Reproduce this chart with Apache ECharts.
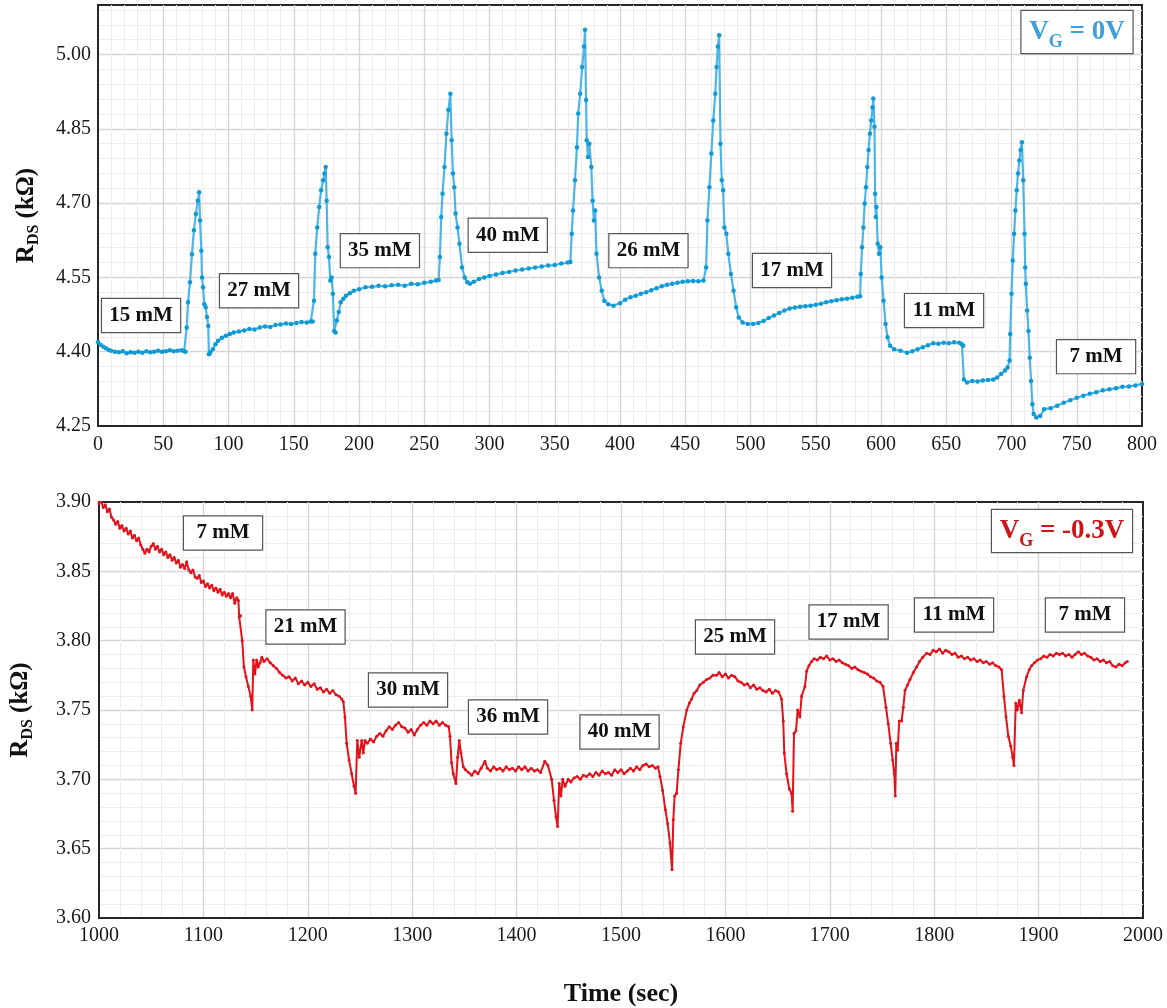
<!DOCTYPE html>
<html><head><meta charset="utf-8">
<script src="https://cdn.jsdelivr.net/npm/echarts/dist/echarts.min.js"></script>
<style>html,body{margin:0;padding:0;background:#fff}#c{width:1167px;height:1008px}</style>
</head><body><div id="c"></div>
<script>
// ---------- DATA ----------
// Top panel: V_G = 0 V, [time (s), R_DS (kΩ)]
const topSeries = [
[0,4.419],[2,4.414],[4,4.410],[6,4.407],[8,4.404],[10,4.402],[13,4.400],[16,4.399],[19,4.401],[22,4.397],[25,4.399],[28,4.398],[31,4.400],[34,4.398],[37,4.401],[40,4.399],[43,4.400],[46,4.402],[49,4.400],[52,4.401],[55,4.403],[58,4.401],[61,4.402],[64,4.403],[66,4.401],[67,4.400],
[68,4.449],[69,4.500],[70.5,4.540],[72,4.597],[73.5,4.645],[75,4.678],[76.5,4.705],[77.5,4.722],
[78.2,4.665],[79.2,4.604],[79.7,4.550],[80.5,4.530],[81.5,4.496],[82.5,4.490],[83.5,4.470],[84.5,4.452],[85,4.395],
[86,4.398],[88,4.405],[90,4.415],[92,4.422],[95,4.428],[98,4.432],[101,4.436],[104,4.439],[108,4.441],[112,4.443],[116,4.446],[120,4.445],[124,4.449],[128,4.451],[132,4.450],[136,4.454],[140,4.455],[144,4.457],[148,4.456],[152,4.458],[156,4.460],[160,4.459],[163,4.461],[164.5,4.461],
[165.5,4.503],[166.5,4.598],[168,4.651],[169.5,4.692],[171,4.726],[172.5,4.746],[173.5,4.760],[174.5,4.773],
[175.2,4.705],[176,4.611],[177,4.591],[178,4.544],[179,4.550],[180,4.517],[181,4.442],[182,4.439],
[183,4.463],[184.5,4.480],[186,4.500],[188,4.507],[190,4.513],[193,4.518],[196,4.523],[200,4.526],[205,4.530],[210,4.531],[215,4.533],[220,4.532],[225,4.534],[230,4.535],[235,4.533],[240,4.537],[245,4.536],[250,4.539],[255,4.541],[259,4.544],[261,4.545],
[262,4.591],[263,4.672],[264,4.719],[265.5,4.773],[267,4.840],[268.5,4.888],[270,4.921],
[271,4.827],[272,4.760],[273,4.732],[274,4.679],[275.5,4.651],[277,4.618],[279,4.570],[281,4.550],[283,4.540],[285,4.537],
[288,4.541],[292,4.547],[296,4.550],[300,4.553],[305,4.556],[310,4.559],[315,4.561],[320,4.564],[325,4.566],[330,4.568],[335,4.570],[340,4.572],[345,4.574],[350,4.575],[355,4.578],[360,4.580],[362,4.581],
[363,4.638],[364,4.685],[365.5,4.746],[367,4.813],[368,4.881],[369.5,4.921],[371,4.975],[372.5,5.016],[373.2,5.050],
[374,4.908],[374.5,4.827],[375.5,4.793],[376.5,4.820],[378,4.773],[379,4.705],[380,4.665],[381,4.685],[382,4.598],[384,4.550],[386,4.523],[388,4.503],[391,4.496],[395,4.493],
[400,4.498],[404,4.505],[408,4.510],[412,4.513],[416,4.517],[420,4.520],[424,4.524],[428,4.528],[432,4.532],[436,4.535],[440,4.537],[444,4.539],[448,4.541],[452,4.542],[456,4.543],[460,4.542],[464,4.544],
[466,4.570],[467,4.665],[468.5,4.732],[470,4.800],[471.5,4.867],[473,4.921],[474,4.975],[475,5.016],[476,5.039],
[477,4.820],[478,4.746],[479,4.726],[480,4.651],[481.5,4.638],[483,4.598],[485,4.557],[487,4.523],[489,4.490],[491,4.469],[494,4.459],[498,4.456],
[502,4.456],[506,4.458],[510,4.462],[514,4.468],[518,4.473],[522,4.478],[526,4.483],[530,4.487],[534,4.489],[538,4.491],[542,4.492],[546,4.493],[550,4.495],[554,4.497],[558,4.500],[562,4.502],[566,4.504],[570,4.506],[574,4.507],[578,4.509],[582,4.511],[584,4.512],
[584.5,4.557],[585.5,4.611],[586.5,4.651],[587.5,4.699],[588.5,4.732],[589.5,4.773],[590.5,4.807],[591.5,4.840],[592.5,4.867],[593.5,4.893],[594.1,4.911],
[595,4.854],[595.5,4.719],[596,4.672],[596.5,4.692],[597.5,4.618],[598.5,4.598],[599.5,4.611],[600.5,4.550],[602,4.503],[603.5,4.456],[605,4.429],[607,4.412],[610,4.405],[615,4.402],[620,4.398],
[624,4.401],[628,4.405],[632,4.409],[636,4.413],[640,4.417],[644,4.416],[648,4.418],[652,4.417],[656,4.419],[660,4.418],[662,4.415],[663,4.412],[663.5,4.344],[666,4.338],[670,4.341],[674,4.340],[678,4.342],[682,4.343],[686,4.344],[689,4.348],[692,4.355],[695,4.362],[697,4.368],[698.5,4.382],
[699,4.436],[700,4.517],[701,4.584],[702,4.638],[703,4.685],[704,4.726],[705,4.760],[706,4.786],[707,4.807],[708,4.823],
[709,4.746],[710,4.638],[710.5,4.570],[711,4.537],[712,4.483],[713,4.442],[714,4.388],[715,4.341],[716,4.294],[717,4.274],[719,4.267],[722,4.270],[725,4.284],[730,4.286],[735,4.291],[740,4.297],[745,4.302],[750,4.307],[755,4.311],[760,4.315],[765,4.318],[770,4.322],[775,4.324],[780,4.326],[785,4.329],[790,4.330],[795,4.332],[800,4.335]
];

// Bottom panel: V_G = -0.3 V, [time (s), R_DS (kΩ)]
const bottomSeries = [
[1000,3.899],[1002,3.901],[1004,3.896],[1006,3.898],[1008,3.893],[1010,3.895],[1012,3.889],[1014,3.887],[1016,3.884],[1018,3.886],[1020,3.881],[1022,3.883],[1024,3.879],[1026,3.881],[1028,3.877],[1030,3.879],[1032,3.874],[1034,3.876],[1036,3.872],[1038,3.874],[1040,3.869],[1042,3.866],[1044,3.863],[1046,3.866],[1048,3.864],[1050,3.868],[1052,3.870],[1054,3.866],[1056,3.868],[1058,3.864],[1060,3.866],[1062,3.862],[1064,3.864],[1066,3.860],[1068,3.862],[1070,3.858],[1072,3.860],[1074,3.856],[1076,3.858],[1078,3.853],[1080,3.855],[1082,3.852],[1084,3.857],[1086,3.851],[1088,3.849],[1090,3.851],[1092,3.846],[1094,3.845],[1096,3.847],[1098,3.842],[1100,3.843],[1102,3.839],[1104,3.841],[1106,3.838],[1108,3.840],[1110,3.836],[1112,3.838],[1114,3.835],[1116,3.837],[1118,3.833],[1120,3.835],[1122,3.832],[1124,3.834],[1126,3.831],[1128,3.834],[1130,3.827],[1132,3.831],[1133.5,3.829],
[1134.3,3.817],[1135.6,3.818],[1137.2,3.800],[1138.8,3.781],[1140.8,3.774],[1143,3.767],[1145.3,3.760],[1146.8,3.750],[1147.8,3.786],[1149.4,3.776],[1151,3.786],[1152.5,3.781],[1154.2,3.784],[1156,3.788],[1158,3.785],
[1161,3.787],[1164,3.784],[1167,3.782],[1170,3.780],[1173,3.777],[1176,3.775],[1179,3.773],[1182,3.774],[1185,3.771],[1188,3.773],[1191,3.769],[1194,3.771],[1197,3.768],[1200,3.770],[1203,3.767],[1206,3.769],[1209,3.765],[1212,3.766],[1215,3.763],[1218,3.765],[1221,3.762],[1224,3.764],[1227,3.761],[1230,3.760],[1232.5,3.758],[1234,3.756],
[1235.6,3.745],[1237.2,3.726],[1239.5,3.714],[1242,3.704],[1244.3,3.695],[1245.8,3.690],[1247.4,3.728],[1249.3,3.716],[1251.6,3.728],[1253.2,3.719],[1254.8,3.728],
[1257,3.726],[1260,3.729],[1263,3.727],[1266,3.731],[1269,3.733],[1272,3.731],[1275,3.735],[1278,3.738],[1281,3.736],[1284,3.739],[1287,3.741],[1290,3.738],[1293,3.737],[1296,3.734],[1299,3.736],[1302,3.732],[1305,3.736],[1308,3.739],[1311,3.741],[1314,3.739],[1317,3.742],[1320,3.740],[1323,3.742],[1326,3.739],[1329,3.741],[1332,3.739],[1335,3.738],
[1336.2,3.731],[1337.7,3.712],[1339.3,3.704],[1341.9,3.697],[1343.5,3.716],[1345.1,3.728],[1346.7,3.719],[1348.9,3.709],
[1351,3.707],[1354,3.705],[1357,3.703],[1360,3.706],[1363,3.704],[1366,3.708],[1369.7,3.713],[1372,3.708],[1375,3.706],[1378,3.709],[1381,3.707],[1384,3.708],[1387,3.706],[1390,3.709],[1393,3.707],[1396,3.708],[1399,3.706],[1402,3.709],[1405,3.707],[1408,3.709],[1411,3.706],[1414,3.708],[1417,3.706],[1420,3.707],[1423,3.705],[1427,3.713],[1430,3.710],
[1433.6,3.700],[1435.8,3.685],[1437.7,3.673],[1439.3,3.666],[1440.8,3.697],[1442.5,3.688],[1444.1,3.700],[1446.4,3.695],[1449.5,3.700],
[1452,3.698],[1455,3.701],[1458,3.702],[1461,3.700],[1464,3.703],[1467,3.702],[1470,3.704],[1473,3.702],[1476,3.705],[1479,3.703],[1482,3.706],[1485,3.704],[1488,3.705],[1491,3.703],[1494,3.707],[1497,3.705],[1500,3.707],[1503,3.704],[1506,3.706],[1509,3.708],[1512,3.706],[1515,3.709],[1518,3.707],[1521,3.710],[1524,3.711],[1527,3.709],[1530,3.710],[1533,3.708],[1535.5,3.709],
[1537.4,3.702],[1539.9,3.692],[1542.5,3.678],[1544.7,3.668],[1546.9,3.654],[1548.9,3.635],[1550.1,3.671],[1551.4,3.688],[1553.3,3.690],[1555,3.707],[1557.2,3.726],[1559.7,3.738],[1563,3.750],[1565.5,3.755],[1567.7,3.758],[1570,3.762],[1572.5,3.764],[1575.5,3.768],[1578.9,3.770],[1582,3.772],[1585.2,3.773],[1588,3.775],[1591.6,3.775],
[1594,3.777],[1597,3.774],[1600,3.776],[1603,3.773],[1606,3.775],[1609,3.774],[1612,3.771],[1615,3.770],[1618,3.768],[1621,3.769],[1624,3.766],[1627,3.768],[1630,3.765],[1633,3.766],[1636,3.764],[1639,3.763],[1642,3.765],[1645,3.762],[1648,3.764],[1651,3.763],[1653.8,3.758],
[1655.4,3.742],[1656.4,3.719],[1658.6,3.704],[1661.2,3.693],[1663.4,3.690],[1664.4,3.677],[1665.7,3.733],[1667.6,3.735],[1669.2,3.750],[1671.4,3.745],[1673,3.760],[1676.2,3.767],[1677.8,3.778],[1680,3.782],[1682.6,3.785],[1685,3.787],
[1688,3.786],[1691,3.788],[1694,3.787],[1697,3.789],[1700,3.786],[1703,3.787],[1706,3.785],[1709,3.786],[1712,3.784],[1715,3.783],[1718,3.782],[1721,3.780],[1724,3.781],[1727,3.779],[1730,3.778],[1733,3.777],[1736,3.776],[1739,3.774],[1742,3.773],[1745,3.771],[1748,3.770],[1751,3.767],
[1753.8,3.752],[1756,3.740],[1758.3,3.726],[1760.2,3.714],[1761.8,3.704],[1762.7,3.688],[1763.7,3.726],[1765,3.721],[1766.5,3.742],[1768.8,3.742],[1770.4,3.752],[1772,3.764],[1774.5,3.768],[1776.8,3.772],[1780,3.777],[1783.1,3.781],[1786,3.785],[1789,3.788],[1792.7,3.791],
[1796,3.790],[1799,3.793],[1802,3.792],[1805,3.794],[1808,3.791],[1811,3.793],[1814,3.792],[1817,3.790],[1820,3.791],[1823,3.788],[1826,3.789],[1829,3.787],[1832,3.788],[1835,3.786],[1838,3.787],[1841,3.785],[1844,3.786],[1847,3.784],[1850,3.785],[1853,3.783],[1856,3.784],[1859,3.782],[1862,3.781],[1864.6,3.779],
[1866.8,3.760],[1868.8,3.745],[1871,3.731],[1873.3,3.724],[1875.2,3.716],[1876.4,3.710],[1878.1,3.755],[1879.6,3.750],[1881.6,3.757],[1883.7,3.748],[1885.3,3.764],[1888.5,3.774],[1891,3.779],[1893.3,3.782],[1896,3.784],[1899,3.786],
[1902,3.787],[1905,3.789],[1908,3.788],[1911,3.790],[1914,3.789],[1917,3.791],[1920,3.790],[1923,3.791],[1926,3.789],[1929,3.790],[1932,3.788],[1935,3.790],[1938,3.792],[1941,3.790],[1944,3.791],[1947,3.789],[1950,3.788],[1953,3.786],[1956,3.787],[1959,3.785],[1962,3.786],[1965,3.784],[1968,3.785],[1971,3.782],[1974,3.781],[1977,3.783],[1980,3.782],[1983,3.784],[1985,3.785]
];

// Concentration annotations: [text, time, R_DS]
const topLabels = [
['15 mM',33,4.473],['27 mM',123.4,4.523],['35 mM',216,4.604],['40 mM',314,4.635],
['26 mM',421.8,4.604],['17 mM',531.8,4.564],['11 mM',648.3,4.483],['7 mM',764.8,4.390]
];
const bottomLabels = [
['7 mM',1118.8,3.8776],['21 mM',1197.8,3.8099],['30 mM',1296,3.7644],['36 mM',1391.8,3.745],
['40 mM',1498.6,3.7341],['25 mM',1609.2,3.8026],['17 mM',1718,3.8135],['11 mM',1819,3.8185],['7 mM',1944.4,3.8185]
];
const topGate = ['0V',750.2,5.0456];
const bottomGate = ['-0.3V',1922.4,3.8791];

// ---------- STYLE / OPTION ----------
const FONT = "'Liberation Serif','Times New Roman',serif";
const BLUE_LINE = '#4db5e6', BLUE_DOT = '#0f9ad6', BLUE_TXT = '#3d9fdc';
const RED = '#e3121a', RED_TXT = '#cc1518';

function boxLabel(){
  return {show:true, position:'inside', formatter:'{b}', fontFamily:FONT, fontSize:21, fontWeight:'bold',
    color:'#111', backgroundColor:'#fff', borderColor:'#555', borderWidth:1.2,
    width:78, height:33, lineHeight:33, align:'center', verticalAlign:'middle', padding:0};
}
function gateLabel(txt, color, w){
  return {show:true, position:'inside', formatter:'{v|V}{g|G}{v| = '+txt+'}',
    backgroundColor:'#fff', borderColor:'#555', borderWidth:1.2, padding:[2,0,2,0],
    width:w, height:38, align:'center', verticalAlign:'middle',
    rich:{
      v:{fontFamily:FONT,fontSize:27,fontWeight:'bold',color:color,lineHeight:38},
      g:{fontFamily:FONT,fontSize:18,fontWeight:'bold',color:color,lineHeight:22,verticalAlign:'bottom'}
    }};
}
function marks(list, gate, color, w){
  const d = list.map(l => ({name:l[0], coord:[l[1],l[2]], label:boxLabel()}));
  d.push({name:'gate', coord:[gate[1],gate[2]], label:gateLabel(gate[0], color, w)});
  return d;
}
const yName = {
  rich:{
    a:{fontFamily:FONT,fontSize:25,fontWeight:'bold',color:'#111',lineHeight:30},
    b:{fontFamily:FONT,fontSize:16,fontWeight:'bold',color:'#111',lineHeight:20,verticalAlign:'bottom'}
  }
};
const axisLabelStyle = {fontFamily:FONT,fontSize:20,color:'#1a1a1a'};
const majorSplit = {show:true, showMinLine:false, showMaxLine:false, lineStyle:{color:'#d5d5d5',width:1.4}};
const minorSplit = {show:true, lineStyle:{color:'#ededed',width:1}};
const axisLine = {show:true, lineStyle:{color:'#262626',width:2}};

const chart = echarts.init(document.getElementById('c'), null, {renderer:'canvas'});
chart.setOption({
  animation:false,
  backgroundColor:'#fff',
  grid:[
    {left:98, right:25, top:5, height:421, show:true, borderColor:'#262626', borderWidth:2, backgroundColor:'transparent'},
    {left:99, right:24, top:502, height:416, show:true, borderColor:'#262626', borderWidth:2, backgroundColor:'transparent'}
  ],
  xAxis:[
    {gridIndex:0, type:'value', min:0, max:800, interval:50,
     axisLine:axisLine, axisTick:{show:false}, axisLabel:Object.assign({margin:9, formatter:v => String(v)}, axisLabelStyle),
     splitLine:majorSplit, minorTick:{show:false, splitNumber:5}, minorSplitLine:minorSplit},
    {gridIndex:1, type:'value', min:1000, max:2000, interval:100,
     name:'Time (sec)', nameLocation:'middle', nameGap:63,
     nameTextStyle:{fontFamily:FONT,fontSize:26,fontWeight:'bold',color:'#111'},
     axisLine:axisLine, axisTick:{show:false}, axisLabel:Object.assign({margin:8, formatter:v => String(v)}, axisLabelStyle),
     splitLine:majorSplit, minorTick:{show:false, splitNumber:5}, minorSplitLine:minorSplit}
  ],
  yAxis:[
    {gridIndex:0, type:'value', min:4.25, max:5.10, interval:0.15,
     name:'{a|R}{b|DS}{a| (kΩ)}', nameLocation:'middle', nameGap:56, nameRotate:90, nameTextStyle:yName,
     axisLine:axisLine, axisTick:{show:false},
     axisLabel:Object.assign({margin:7, formatter:v => v > 5.06 ? '' : v.toFixed(2)}, axisLabelStyle),
     splitLine:majorSplit, minorTick:{show:false, splitNumber:5}, minorSplitLine:minorSplit},
    {gridIndex:1, type:'value', min:3.60, max:3.90, interval:0.05,
     name:'{a|R}{b|DS}{a| (kΩ)}', nameLocation:'middle', nameGap:63, nameRotate:90, nameTextStyle:yName,
     axisLine:axisLine, axisTick:{show:false},
     axisLabel:Object.assign({margin:8, formatter:v => v.toFixed(2)}, axisLabelStyle),
     splitLine:majorSplit, minorTick:{show:false, splitNumber:5}, minorSplitLine:minorSplit}
  ],
  series:[
    {type:'line', xAxisIndex:0, yAxisIndex:0, data:topSeries,
     symbol:'circle', symbolSize:4.5, showSymbol:true,
     lineStyle:{color:BLUE_LINE, width:2.2}, itemStyle:{color:BLUE_DOT},
     markPoint:{symbol:'rect', symbolSize:1, itemStyle:{color:'rgba(0,0,0,0)'},
       data:marks(topLabels, topGate, BLUE_TXT, 111)}},
    {type:'line', xAxisIndex:1, yAxisIndex:1, data:bottomSeries,
     symbol:'circle', symbolSize:3, showSymbol:true,
     lineStyle:{color:RED, width:2}, itemStyle:{color:RED},
     markPoint:{symbol:'rect', symbolSize:1, itemStyle:{color:'rgba(0,0,0,0)'},
       data:marks(bottomLabels, bottomGate, RED_TXT, 140)}}
  ]
});
</script>
</body></html>
